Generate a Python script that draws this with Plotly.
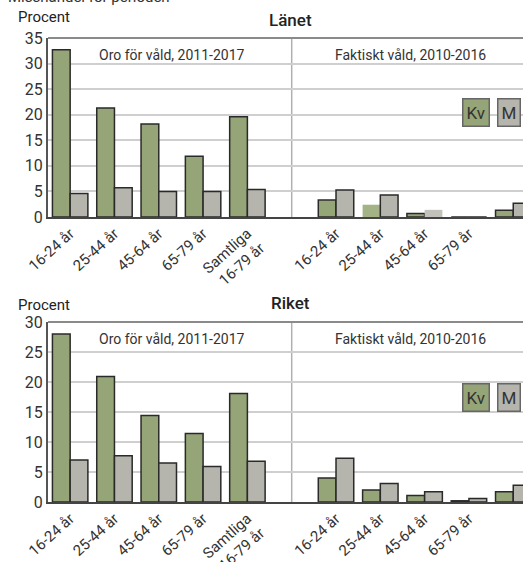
import plotly.graph_objects as go

# ---------------- data ----------------
age_groups = ["16-24 år", "25-44 år", "45-64 år", "65-79 år", "Samtliga<br>16-79 år"]
series_names = ["Kv", "M"]

# Länet
lan_oro_kv = [32.7, 21.3, 18.2, 11.9, 19.6]
lan_oro_m = [4.6, 5.7, 5.0, 5.0, 5.4]
lan_fakt_kv = [3.3, 2.4, 0.7, 0.0, 1.3]
lan_fakt_m = [5.3, 4.3, 1.4, 0.0, 2.7]

# Riket
rik_oro_kv = [28.0, 20.9, 14.4, 11.4, 18.1]
rik_oro_m = [7.0, 7.7, 6.5, 5.9, 6.8]
rik_fakt_kv = [4.0, 2.0, 1.1, 0.2, 1.7]
rik_fakt_m = [7.3, 3.1, 1.7, 0.6, 2.8]

panel_titles = ["Länet", "Riket"]
section_titles = ["Oro för våld, 2011-2017", "Faktiskt våld, 2010-2016"]
y_label = "Procent"
top_text = "Misshandel för perioden"

# ---------------- layout helpers ----------------
W, H = 523, 562
FONT = "Roboto"
GREEN = "#95a578"
GREEN_LIGHT = "#a3b386"
GRAY = "#b5b5ad"
GRAY_LIGHT = "#c2c2ba"
EDGE = "#2a2a2a"


def px_x(p):
    return p / W


def px_y(p):
    return 1 - p / H


x_positions = [0, 1, 2, 3, 4, 6, 7, 8, 9, 10]
tick_text = age_groups + age_groups

fig = go.Figure()

panels = [
    dict(kv=lan_oro_kv + lan_fakt_kv, m=lan_oro_m + lan_fakt_m, top=38, bot=217, ymax=35,
         xa="x", ya="y", title=panel_titles[0], title_y=20, procent_y=17),
    dict(kv=rik_oro_kv + rik_fakt_kv, m=rik_oro_m + rik_fakt_m, top=322, bot=502, ymax=30,
         xa="x2", ya="y2", title=panel_titles[1], title_y=303, procent_y=305),
]

# per-bar styling (Länet faktiskt 25-44 Kv and 45-64 M drawn lighter, no edge)
kv_fill = [[GREEN] * 10, [GREEN] * 10]
kv_edge = [[1.5] * 10, [1.5] * 10]
m_fill = [[GRAY] * 10, [GRAY] * 10]
m_edge = [[1.5] * 10, [1.5] * 10]
kv_fill[0][6] = GREEN_LIGHT
kv_edge[0][6] = 0
m_fill[0][7] = GRAY_LIGHT
m_edge[0][7] = 0

annotations = []
shapes = []
for i, p in enumerate(panels):
    fig.add_trace(go.Bar(x=x_positions, y=p["kv"], name=series_names[0], xaxis=p["xa"], yaxis=p["ya"],
                         marker=dict(color=kv_fill[i], line=dict(color=EDGE, width=kv_edge[i])),
                         showlegend=False))
    fig.add_trace(go.Bar(x=x_positions, y=p["m"], name=series_names[1], xaxis=p["xa"], yaxis=p["ya"],
                         marker=dict(color=m_fill[i], line=dict(color=EDGE, width=m_edge[i])),
                         showlegend=False))
    xa_key = "xaxis" if i == 0 else "xaxis2"
    ya_key = "yaxis" if i == 0 else "yaxis2"
    fig.layout[xa_key] = dict(
        domain=[px_x(48), 1], range=[-0.5, 10.22], anchor=p["ya"], automargin=False,
        tickmode="array", tickvals=x_positions, ticktext=tick_text, tickangle=-42,
        tickfont=dict(family=FONT, size=15, color="#333"), showgrid=False,
        showline=True, linecolor="#444", linewidth=2, ticks="", ticklen=0, zeroline=False, fixedrange=True,
    )
    fig.layout[ya_key] = dict(
        domain=[px_y(p["bot"]), px_y(p["top"])], range=[0, p["ymax"]], anchor=p["xa"], automargin=False,
        dtick=5, tickfont=dict(family=FONT, size=16, color="#333"), showgrid=True,
        gridcolor="#cfcfcf", gridwidth=1.5, showline=True, linecolor="#555", linewidth=2,
        ticks="", zeroline=False, fixedrange=True,
    )
    # divider and top border
    shapes.append(dict(type="line", xref=p["xa"], yref=p["ya"] + " domain", x0=5, x1=5, y0=0, y1=1,
                       line=dict(color="#b0b0b0", width=1.5), layer="below"))
    shapes.append(dict(type="line", xref="paper", yref="paper", x0=px_x(48), x1=1,
                       y0=px_y(p["top"]), y1=px_y(p["top"]), line=dict(color="#8a8a8a", width=2)))
    # titles
    annotations.append(dict(text=p["title"], x=px_x(290), y=px_y(p["title_y"]), xref="paper", yref="paper",
                            showarrow=False, font=dict(family=FONT, size=17, color="#222", weight=500),
                            xanchor="center", yanchor="middle"))
    annotations.append(dict(text=y_label, x=px_x(16), y=px_y(p["procent_y"]), xref="paper", yref="paper",
                            showarrow=False, font=dict(family=FONT, size=15, color="#222"),
                            xanchor="left", yanchor="middle"))
    annotations.append(dict(text=section_titles[0], x=px_x(172), y=px_y(p["top"] + 17), xref="paper",
                            yref="paper", showarrow=False, font=dict(family=FONT, size=14, color="#333"),
                            xanchor="center", yanchor="middle"))
    annotations.append(dict(text=section_titles[1], x=px_x(410), y=px_y(p["top"] + 17), xref="paper",
                            yref="paper", showarrow=False, font=dict(family=FONT, size=14, color="#333"),
                            xanchor="center", yanchor="middle"))
    # legend boxes
    ly = 113 if i == 0 else 397
    for name, cx, bg in [(series_names[0], 475.5, GREEN), (series_names[1], 509, GRAY)]:
        annotations.append(dict(text=name, x=px_x(cx), y=px_y(ly), xref="paper", yref="paper",
                                showarrow=False, font=dict(family=FONT, size=17, color="#333"),
                                bgcolor=bg, bordercolor="#666", borderwidth=1.5, borderpad=3,
                                xanchor="center", yanchor="middle"))

annotations.append(dict(text=top_text, x=px_x(6), y=px_y(-3), xref="paper", yref="paper", showarrow=False,
                        font=dict(family=FONT, size=15, color="#333"), xanchor="left", yanchor="middle"))

fig.update_layout(
    template="none",
    width=W, height=H, margin=dict(l=0, r=0, t=0, b=0, autoexpand=False),
    paper_bgcolor="white", plot_bgcolor="white",
    barmode="group", bargap=0.2, bargroupgap=0,
    annotations=annotations, shapes=shapes, showlegend=False,
)

fig.write_html("out.html", config={"displayModeBar": False},
               post_script="document.body.style.margin='0';document.body.style.overflow='hidden';")
